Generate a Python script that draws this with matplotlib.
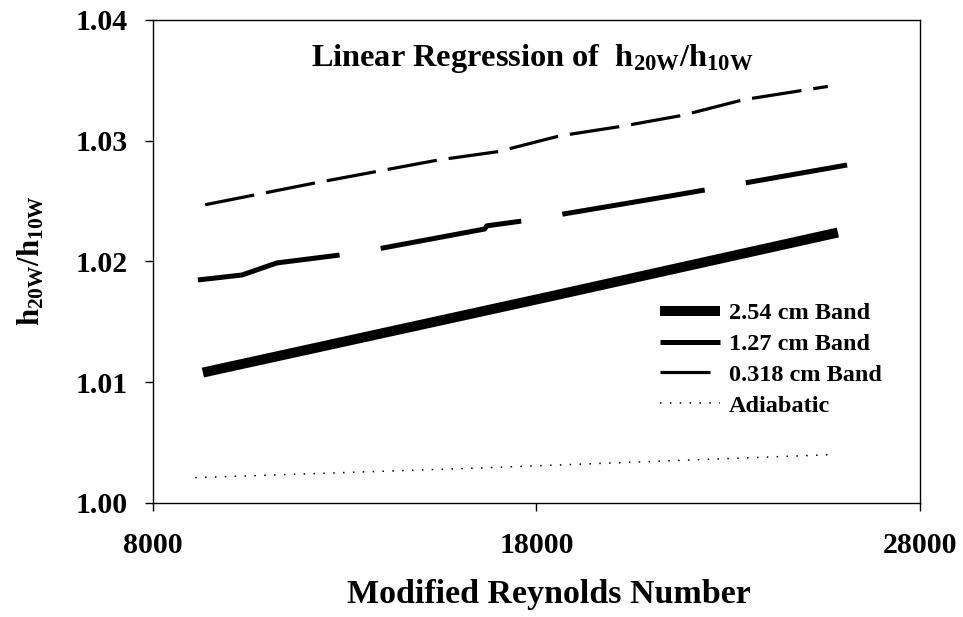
import matplotlib.pyplot as plt
from matplotlib.ticker import FormatStrFormatter

plt.rcParams['font.family'] = 'Liberation Serif'
plt.rcParams['font.weight'] = 'bold'
plt.rcParams['mathtext.fontset'] = 'custom'
plt.rcParams['mathtext.rm'] = 'Liberation Serif:bold'
plt.rcParams['mathtext.bf'] = 'Liberation Serif:bold'
plt.rcParams['mathtext.default'] = 'bf'
plt.rcParams['lines.scale_dashes'] = False

# regression curves, h20W/h10W vs modified Reynolds number
re_254 = [9300, 18350, 25860]
h_254 = [1.0108, 1.0171, 1.0224]

re_127 = [9170, 10320, 11230, 12880, 14000, 16650, 16700, 17620, 21480, 22390, 26100]
h_127 = [1.01847, 1.01888, 1.01988, 1.02054, 1.02112, 1.02269, 1.02295, 1.02335, 1.02542, 1.02592, 1.02799]

re_0318 = [9360, 12220, 15430, 17000, 18600, 20230, 21800, 23400, 25600]
h_0318 = [1.0247, 1.0265, 1.0284, 1.0291, 1.0304, 1.0312, 1.0321, 1.0334, 1.0345]

re_adi = [9100, 16530, 25680]
h_adi = [1.0021, 1.0029, 1.0040]

labels = ['2.54 cm Band', '1.27 cm Band', '0.318 cm Band', 'Adiabatic']
xticks = [8000, 18000, 28000]
yticks = [1.00, 1.01, 1.02, 1.03, 1.04]

fig = plt.figure(figsize=(9.63, 6.17), dpi=100)
ax = fig.add_axes([0.1589, 0.1848, 0.7964, 0.7828])

l1, = ax.plot(re_254, h_254, color='black', lw=7.2, solid_capstyle='butt')
l2, = ax.plot(re_127, h_127, color='black', lw=3.6, linestyle=(0, (104, 30)),
              dash_capstyle='butt', solid_joinstyle='round', dash_joinstyle='round')
l3, = ax.plot(re_0318, h_0318, color='black', lw=2.3, linestyle=(0, (36, 8.6)),
              dash_capstyle='butt')
l4, = ax.plot(re_adi, h_adi, color='black', lw=1.1, linestyle=(0, (1.1, 6.0)),
              dash_capstyle='butt')

ax.set_xlim(8000, 28000)
ax.set_ylim(1.00, 1.04)
ax.set_xticks(xticks)
ax.set_yticks(yticks)
ax.yaxis.set_major_formatter(FormatStrFormatter('%.2f'))
ax.xaxis.set_major_formatter(FormatStrFormatter('%d'))
ax.tick_params(axis='y', direction='out', length=6, width=1, pad=12, labelsize=21.5)
ax.tick_params(axis='x', direction='out', length=6, width=1, pad=15, labelsize=21.5)
for s in ax.spines.values():
    s.set_linewidth(1)

ax.text(0.494, 0.921, 'Linear Regression of  h$_{20W}$/h$_{10W}$',
        transform=ax.transAxes, ha='center', va='center', fontsize=23.3)

fig.text(549 / 963, 1 - 595 / 617, 'Modified Reynolds Number',
         ha='center', va='center', fontsize=24.5)
fig.text(31 / 963, 1 - 261 / 617, 'h$_{20W}$/h$_{10W}$', rotation=90,
         ha='center', va='center', fontsize=22)

ax.legend([l1, l2, l3, l4], labels, loc='center left',
          bbox_to_anchor=(0.661, 0.297), frameon=False, fontsize=17.5,
          handlelength=2.45, handletextpad=0.4, labelspacing=0.36,
          borderpad=0, borderaxespad=0)

plt.savefig('out.png', dpi=100)
